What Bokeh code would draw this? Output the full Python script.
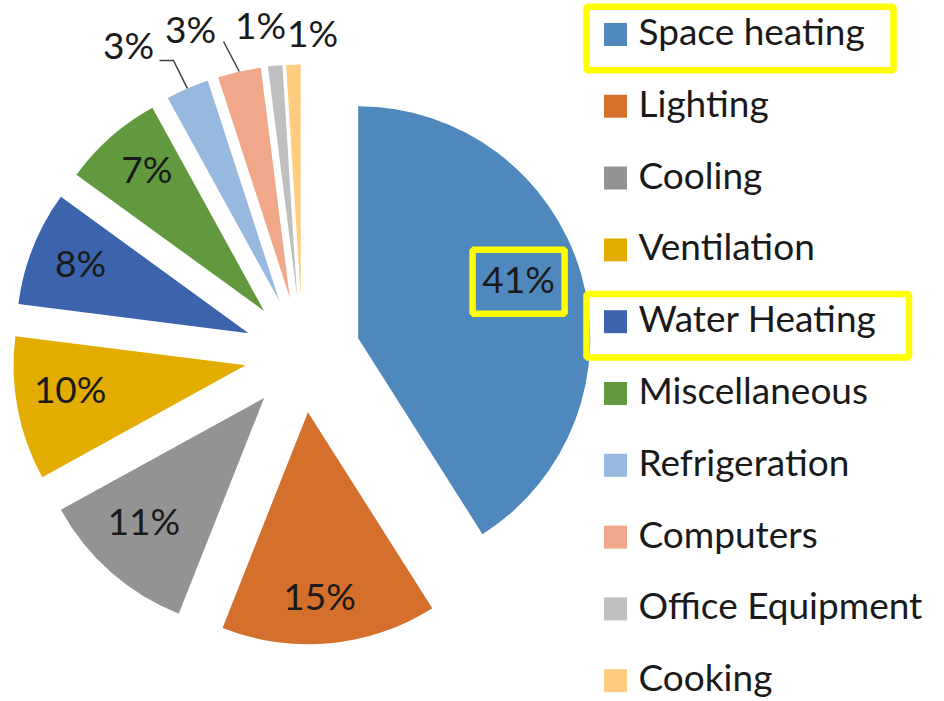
import numpy as np
from bokeh.plotting import figure
from bokeh.models import Range1d
from bokeh.core.properties import value
from bokeh.embed import file_html
from bokeh.resources import INLINE

# ---------------- data ----------------
categories = ["Space heating", "Lighting", "Cooling", "Ventilation", "Water Heating",
              "Miscellaneous", "Refrigeration", "Computers", "Office Equipment", "Cooking"]
shares = [41, 15, 11, 10, 8, 7, 3, 3, 1, 1]
colors = ["#4F88BC", "#D46F2C", "#939393", "#E2AC00", "#3C64AD",
          "#62993F", "#97B9E0", "#F0A78A", "#BFBFBF", "#FFCC80"]
highlighted = ["Space heating", "Water Heating"]
highlighted_labels = ["Space heating"]

# ---------------- layout (screen pixels) ----------------
W, H = 944, 701
CX, CY = 302, 354
R = 232
EXPLODE = 58
FONT = value("Lato")
FS = "37px"
TXT_UP = 4  # baseline correction

p = figure(width=W, height=H, output_backend="svg", toolbar_location=None,
           x_range=Range1d(0, W), y_range=Range1d(-H, 0),
           min_border=0, outline_line_color=None)
p.axis.visible = False
p.grid.visible = False

vals = np.array(shares, dtype=float)
cum = np.concatenate([[0], np.cumsum(vals)]) / vals.sum() * 360.0
t1 = cum[:-1]
t2 = cum[1:]
mid = np.radians((t1 + t2) / 2)
ax = CX + EXPLODE * np.sin(mid)
ay = -CY + EXPLODE * np.cos(mid)

p.wedge(x=ax, y=ay, radius=R, start_angle=np.radians(90 - t1), end_angle=np.radians(90 - t2),
        direction="clock", fill_color=colors, line_color=None)

# labels
lab_txt = [f"{v}%" for v in shares]
lx, ly = [], []
outside_pos = {6: (128, 48), 7: (190, 32), 8: (260, 28), 9: (312, 36)}
nudge = {0: (0, 9), 1: (-5, -11), 2: (-3, 7), 3: (-1, 6), 4: (-3, 1), 5: (0, 5)}
for i in range(len(shares)):
    if i in outside_pos:
        lx.append(outside_pos[i][0]); ly.append(-outside_pos[i][1])
    else:
        frac = 0.72 if i == 0 else 0.765
        dx, dy = nudge.get(i, (0, 0))
        lx.append(ax[i] + frac * R * np.sin(mid[i]) + dx)
        ly.append(ay[i] + frac * R * np.cos(mid[i]) + dy)
p.text(x=lx, y=[y + TXT_UP for y in ly], text=lab_txt, text_font=FONT, text_font_size=FS,
       text_color="#1a1a1a", text_align="center", text_baseline="middle")

# leader lines for two small slices
leader_ends = {6: [(173, 60), (159, 60)], 7: [(223, 41)]}
for i, pts in leader_ends.items():
    xs = [ax[i] + R * np.sin(mid[i])] + [q[0] for q in pts]
    ys = [ay[i] + R * np.cos(mid[i])] + [-q[1] for q in pts]
    p.line(xs, ys, line_color="#404040", line_width=1.5)

# highlight box around the label of the largest slice
for c in highlighted_labels:
    i = categories.index(c)
    p.rect(x=lx[i], y=ly[i] + 1, width=92, height=64, fill_color=None,
           line_color="#FFFF00", line_width=6.5)

# legend
LEG_X = 615
LEG_Y0 = 34
LEG_DY = 71.8
rows_y = [-(LEG_Y0 + k * LEG_DY) for k in range(len(categories))]
p.rect(x=[LEG_X] * len(categories), y=rows_y, width=23, height=23, fill_color=colors, line_color=None)
p.text(x=[638] * len(categories), y=[y + TXT_UP for y in rows_y], text=categories, text_font=FONT,
       text_font_size=FS, text_color="#1a1a1a", text_align="left", text_baseline="middle")
for c, wbox in zip(highlighted, [307, 322.5]):
    k = categories.index(c)
    p.rect(x=586 + wbox / 2, y=rows_y[k] - 4, width=wbox, height=63.5, fill_color=None,
           line_color="#FFFF00", line_width=6.5)

open("out.html", "w").write(file_html(p, INLINE))
